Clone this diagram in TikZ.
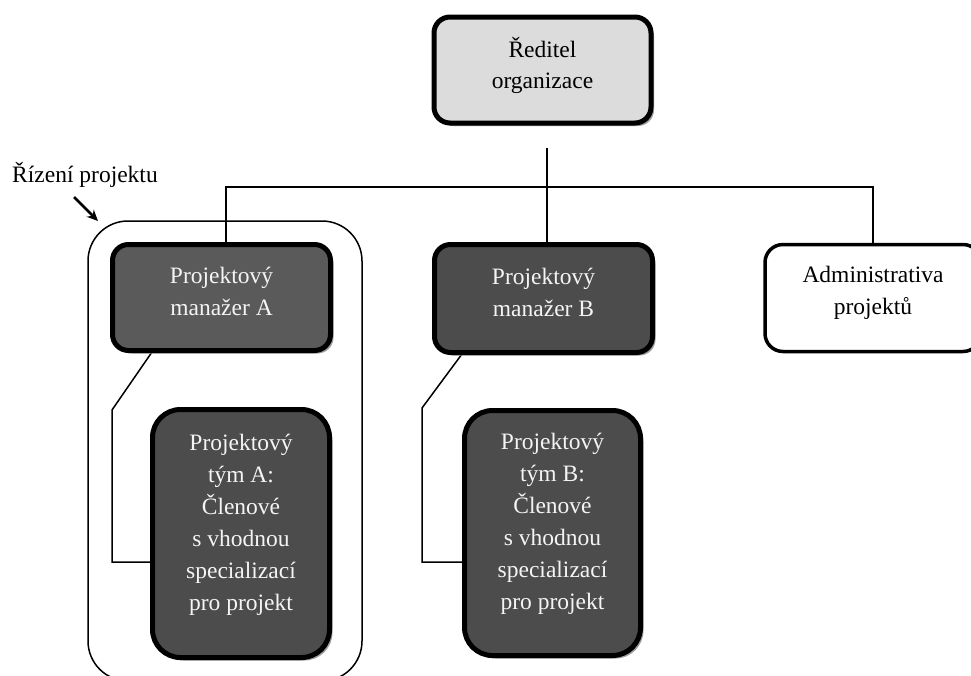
\documentclass[tikz,border=0pt]{standalone}
\usepackage{fontspec}
\setmainfont{Liberation Serif}
\usetikzlibrary{shadows,arrows.meta}
\definecolor{boxlight}{HTML}{DCDCDC}
\definecolor{pmAfill}{HTML}{5A5A5A}
\definecolor{darkfill}{HTML}{4C4C4C}
\definecolor{wtext}{HTML}{F4F4F4}
\begin{document}
\begin{tikzpicture}[x=1pt,y=-1pt,
  box/.style={draw=black, rectangle, rounded corners=16pt, line width=5pt, inner sep=0pt},
  shad/.style={drop shadow={shadow xshift=3pt, shadow yshift=-3pt, fill=black!38, opacity=1}},
  txt/.style={align=center, font=\fontsize{23.5}{32}\selectfont, inner sep=0pt},
  wtxt/.style={txt, text=wtext},
  conn/.style={line width=1.5pt, line join=miter},
  grpbox/.style={draw=black, line width=1.5pt, rounded corners=40pt, inner sep=0pt}]
\useasboundingbox (0,0) rectangle (971,675);
\clip (0,0) rectangle (971,675);
\fill[white] (0,0) rectangle (971,675);

% group outline
\node[grpbox, minimum width=274pt, minimum height=460pt] (grp) at (225,451) {};

% coordinates for connectors
\coordinate (c0) at (547,148);
\coordinate (hL) at (226,187);
\coordinate (hR) at (873,187);
\coordinate (hA) at (226,243);
\coordinate (hB) at (547,243);
\coordinate (hC) at (873,243);
\coordinate (ka0) at (152,352);
\coordinate (ka1) at (112,410);
\coordinate (ka2) at (112,562);
\coordinate (ka3) at (154,562);
\coordinate (kb0) at (462,354);
\coordinate (kb1) at (422,408);
\coordinate (kb2) at (422,562);
\coordinate (kb3) at (466,562);

% connectors (drawn first, box borders cover their ends)
\draw[conn] (c0) -- (hB);
\draw[conn] (hA) -- (hL) -- (hR) -- (hC);
\draw[conn] (ka0) -- (ka1) -- (ka2) -- (ka3);
\draw[conn] (kb0) -- (kb1) -- (kb2) -- (kb3);

% boxes
\node[box, shad, fill=boxlight, minimum width=217pt, minimum height=106pt] (top) at (542.5,70) {};
\node[box, shad, fill=pmAfill, minimum width=218pt, minimum height=106pt] (pma) at (221.5,297.5) {};
\node[box, shad, fill=darkfill, minimum width=218pt, minimum height=108pt] (pmb) at (543.5,298.5) {};
\node[box, fill=white, line width=3.5pt, rounded corners=18pt, minimum width=216pt, minimum height=107pt] (adm) at (873,298) {};
\node[box, shad, fill=darkfill, rounded corners=28pt, minimum width=177pt, minimum height=248pt] (tma) at (241,533.5) {};
\node[box, shad, fill=darkfill, rounded corners=28pt, minimum width=176pt, minimum height=245pt] (tmb) at (552.5,533) {};

% texts
\node[txt, font=\fontsize{23.5}{31}\selectfont] (topT) at ([yshift=5pt]top.center) {Ředitel\\organizace};
\node[wtxt] (pmaT) at ([yshift=6pt]pma.center) {Projektový\\manažer A};
\node[wtxt] (pmbT) at ([yshift=6pt]pmb.center) {Projektový\\manažer B};
\node[txt] (admT) at ([yshift=5.5pt]adm.center) {Administrativa\\projektů};
\node[wtxt] (tmaT) at ([yshift=9pt]tma.center) {Projektový\\tým A:\\Členové\\s vhodnou\\specializací\\pro projekt};
\node[wtxt] (tmbT) at ([yshift=9pt]tmb.center) {Projektový\\tým B:\\Členové\\s vhodnou\\specializací\\pro projekt};

% label and arrow
\node[txt, anchor=base west] (lab) at (12,182) {Řízení projektu};
\coordinate (arS) at (74,197);
\coordinate (arE) at (98,221);
\draw[line width=2.5pt, -{Stealth[length=11pt,width=10pt]}] (arS) -- (arE);
\end{tikzpicture}
\end{document}
